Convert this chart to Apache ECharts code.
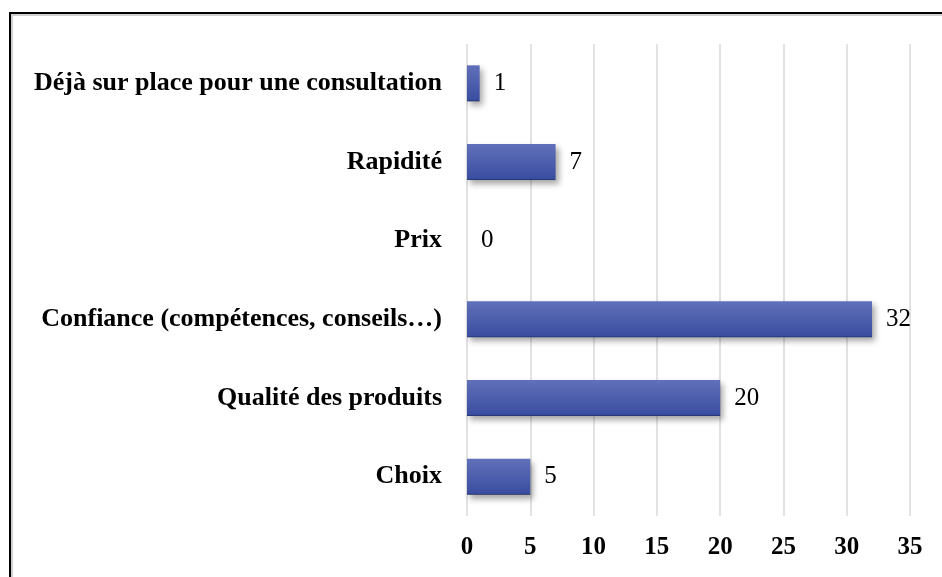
<!DOCTYPE html>
<html>
<head>
<meta charset="utf-8">
<script src="https://cdn.jsdelivr.net/npm/echarts@6/dist/echarts.min.js"></script>
<style>
html,body{margin:0;padding:0;background:#fff;}
#chart{width:942px;height:577px;}
</style>
</head>
<body>
<div id="chart"></div>
<script>
const categories = ['Choix', 'Qualité des produits', 'Confiance (compétences, conseils…)', 'Prix', 'Rapidité', 'Déjà sur place pour une consultation'];
const values = [5, 20, 32, 0, 7, 1];
const xTicks = { min: 0, max: 35, interval: 5 };

const chart = echarts.init(document.getElementById('chart'), null, { renderer: 'canvas' });
const serif = '"Liberation Serif", "Times New Roman", serif';
chart.setOption({
  animation: false,
  backgroundColor: '#ffffff',
  graphic: [
    { type: 'rect', shape: { x: 12, y: 15, width: 1000, height: 700 }, style: { fill: 'none', stroke: '#d0d0d0', lineWidth: 2 }, silent: true, z: -1 },
    { type: 'rect', shape: { x: 10, y: 13, width: 1000, height: 700 }, style: { fill: 'none', stroke: '#000000', lineWidth: 2 }, silent: true, z: -1 }
  ],
  grid: { left: 467, right: 32, top: 44, bottom: 61, containLabel: false },
  xAxis: {
    type: 'value',
    min: xTicks.min, max: xTicks.max, interval: xTicks.interval,
    axisLine: { show: false },
    axisTick: { show: false },
    splitLine: { show: true, lineStyle: { color: '#d9d9d9', width: 1.5 } },
    axisLabel: { margin: 19, fontFamily: serif, fontWeight: 'bold', fontSize: 25, color: '#000' }
  },
  yAxis: {
    type: 'category',
    data: categories,
    axisLine: { show: false },
    axisTick: { show: false },
    axisLabel: { margin: 25, fontFamily: serif, fontWeight: 'bold', fontSize: 26, color: '#000' }
  },
  series: [{
    type: 'bar',
    data: values,
    barWidth: 36,
    itemStyle: {
      color: new echarts.graphic.LinearGradient(0, 0, 0, 1, [
        { offset: 0, color: '#6170b9' },
        { offset: 0.96, color: '#3a4ea1' },
        { offset: 1, color: '#1f2a60' }
      ]),
      shadowBlur: 6,
      shadowOffsetX: 3,
      shadowOffsetY: 4,
      shadowColor: 'rgba(0,0,0,0.35)'
    },
    label: {
      show: true,
      position: 'right',
      distance: 14,
      fontFamily: serif,
      fontSize: 25,
      color: '#000'
    }
  }]
});
</script>
</body>
</html>
